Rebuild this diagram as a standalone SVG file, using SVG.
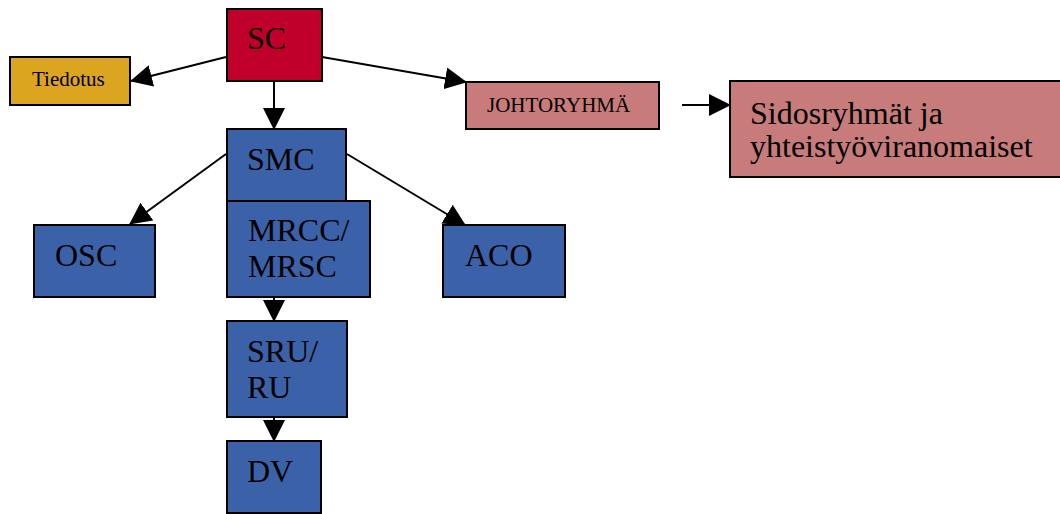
<svg xmlns="http://www.w3.org/2000/svg" width="1060" height="514" viewBox="0 0 1060 514">
<style>
.box{stroke:#000;stroke-width:2}
.blue{fill:#3B62A8}
.red{fill:#C0002A}
.pink{fill:#C77B7B}
.gold{fill:#DBA520}
.t{font-family:"Liberation Serif","Times New Roman",serif;fill:#000}
.big{font-size:32px}
.small{font-size:21px}
.c{stroke:#000;stroke-width:2;fill:none;marker-end:url(#ah)}
</style>
<defs>
<marker id="ah" markerUnits="userSpaceOnUse" markerWidth="22" markerHeight="22" viewBox="0 0 22 22" refX="21" refY="11" orient="auto">
<path d="M0,0 L22,11 L0,22 z" fill="#000"/>
</marker>
</defs>
<rect width="1060" height="514" fill="#fff"/>
<g id="connectors">
<line class="c" x1="226" y1="57" x2="131" y2="81"/>
<line class="c" x1="274" y1="81" x2="274" y2="129"/>
<line class="c" x1="322" y1="57" x2="466" y2="82"/>
<line class="c" x1="682" y1="105" x2="730" y2="105"/>
<line class="c" x1="226" y1="154" x2="130" y2="224"/>
<line class="c" x1="347" y1="154" x2="465" y2="225"/>
<line class="c" x1="274" y1="297" x2="274" y2="321"/>
<line class="c" x1="274" y1="417" x2="274" y2="441"/>
</g>
<g id="SC">
<rect class="box red" x="227" y="9" width="95" height="72"/>
<text class="t big" x="247" y="49">SC</text>
</g>
<g id="Tiedotus">
<rect class="box gold" x="10" y="57" width="120" height="48"/>
<text class="t small" x="32" y="86">Tiedotus</text>
</g>
<g id="JOHTORYHMA">
<rect class="box pink" x="466" y="82" width="193" height="47"/>
<text class="t small" x="487" y="112">JOHTORYHMÄ</text>
</g>
<g id="Sidosryhmat">
<rect class="box pink" x="730" y="81" width="340" height="96"/>
<text class="t big" x="750" y="124">Sidosryhmät ja</text>
<text class="t big" x="750" y="157">yhteistyöviranomaiset</text>
</g>
<g id="SMC">
<rect class="box blue" x="227" y="129" width="119" height="72"/>
<text class="t big" x="247" y="170">SMC</text>
</g>
<g id="MRCC">
<rect class="box blue" x="227" y="201" width="143" height="96"/>
<text class="t big" x="248" y="241">MRCC/</text>
<text class="t big" x="248" y="277">MRSC</text>
</g>
<g id="OSC">
<rect class="box blue" x="34" y="225" width="121" height="72"/>
<text class="t big" x="55" y="266">OSC</text>
</g>
<g id="ACO">
<rect class="box blue" x="443" y="225" width="122" height="72"/>
<text class="t big" x="465" y="266">ACO</text>
</g>
<g id="SRU">
<rect class="box blue" x="227" y="321" width="120" height="96"/>
<text class="t big" x="247" y="362">SRU/</text>
<text class="t big" x="247" y="398">RU</text>
</g>
<g id="DV">
<rect class="box blue" x="227" y="441" width="94" height="72"/>
<text class="t big" x="247" y="482">DV</text>
</g>
</svg>
